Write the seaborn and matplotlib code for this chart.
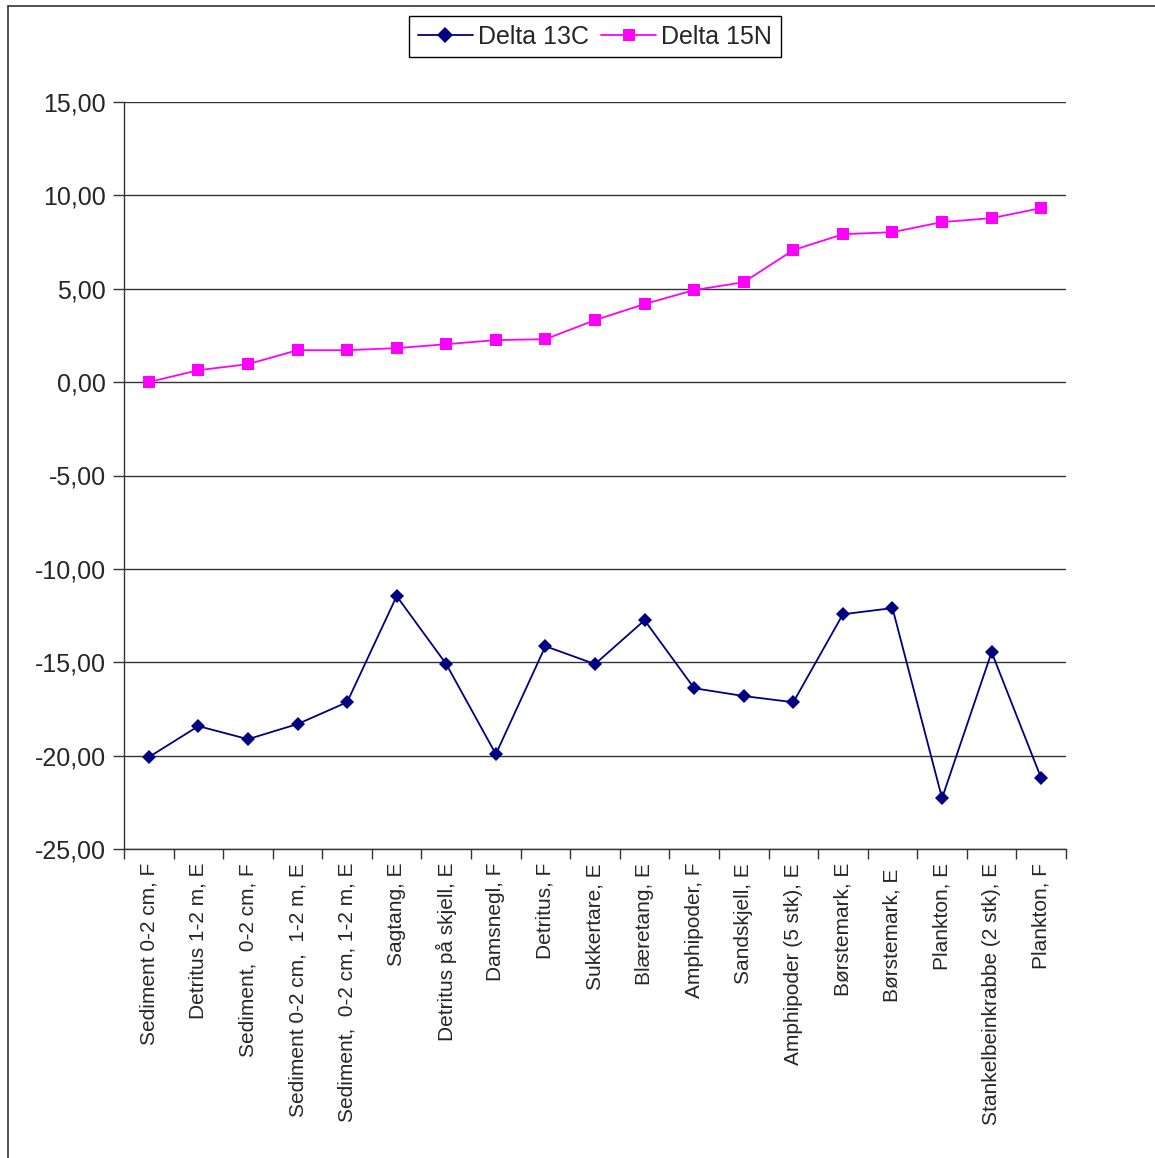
import matplotlib
matplotlib.use("Agg")
import matplotlib.pyplot as plt
import matplotlib.ticker as mticker
import numpy as np
import pandas as pd
import seaborn as sns

# Sample names (x categories)
samples = [
    "Sediment 0-2 cm, F",
    "Detritus 1-2 m, E",
    "Sediment,  0-2 cm, F",
    "Sediment 0-2 cm,  1-2 m, E",
    "Sediment,  0-2 cm, 1-2 m, E",
    "Sagtang, E",
    "Detritus på skjell, E",
    "Damsnegl, F",
    "Detritus, F",
    "Sukkertare, E",
    "Blæretang, E",
    "Amphipoder, F",
    "Sandskjell, E",
    "Amphipoder (5 stk), E",
    "Børstemark, E",
    "Børstemark, E ",
    "Plankton, E",
    "Stankelbeinkrabbe (2 stk), E",
    "Plankton, F",
]

delta_13c = [-20.08, -18.42, -19.12, -18.31, -17.14, -11.46, -15.10, -19.92, -14.14, -15.10,
             -12.75, -16.39, -16.81, -17.14, -12.43, -12.10, -22.28, -14.46, -21.21]
delta_15n = [0.00, 0.64, 0.96, 1.71, 1.71, 1.82, 2.03, 2.25, 2.30, 3.32,
             4.18, 4.93, 5.35, 7.07, 7.92, 8.03, 8.57, 8.78, 9.32]

df = pd.DataFrame({
    "pos": np.arange(len(samples)).tolist() * 2,
    "value": delta_13c + delta_15n,
    "series": ["Delta 13C"] * len(samples) + ["Delta 15N"] * len(samples),
})

sns.set_style("white")
plt.rcParams["font.family"] = ["Liberation Sans", "DejaVu Sans"]

fig = plt.figure(figsize=(11.55, 11.58), dpi=100)
ax = fig.add_axes([124 / 1155, 1 - 849 / 1158, 942 / 1155, 747 / 1158])

# outer frame of the chart area (left and top edges visible)
fig.add_artist(plt.Line2D([8 / 1155, 8 / 1155], [0, 1 - 6 / 1158], color="#333333", lw=1.2,
                          transform=fig.transFigure))
fig.add_artist(plt.Line2D([8 / 1155, 1], [1 - 6 / 1158, 1 - 6 / 1158], color="#333333", lw=1.2,
                          transform=fig.transFigure))

sns.lineplot(data=df, x="pos", y="value", hue="series", style="series",
             palette={"Delta 13C": "#000080", "Delta 15N": "#FF00FF"},
             markers={"Delta 13C": "D", "Delta 15N": "s"},
             dashes=False, ax=ax, lw=1.3, legend=False)
for line, ms in zip(ax.lines, [7, 9]):
    line.set_markersize(ms)
    line.set_markeredgewidth(0)

ax.set_xlim(-0.5, len(samples) - 0.5)
ax.set_ylim(-25, 15)
ax.yaxis.set_major_locator(mticker.MultipleLocator(5))
ax.yaxis.set_major_formatter(mticker.FuncFormatter(lambda v, p: f"{v:.2f}".replace(".", ",")))
ax.yaxis.grid(True, color="#333333", lw=1)
ax.xaxis.grid(False)
ax.set_axisbelow(True)

ax.set_xticks(np.arange(len(samples)))
ax.set_xticklabels(samples, rotation=90, fontsize=15)
ax.tick_params(axis="x", which="major", length=0, pad=10, bottom=False)
ax.set_xticks(np.arange(len(samples) + 1) - 0.5, minor=True)
ax.tick_params(axis="x", which="minor", length=7, color="#333333", width=1, direction="out",
               bottom=True)
ax.tick_params(axis="y", length=8, color="#333333", width=1, direction="out", labelsize=18,
               pad=5, left=True)

for side in ["top", "right"]:
    ax.spines[side].set_visible(False)
for side in ["left", "bottom"]:
    ax.spines[side].set_color("#333333")
    ax.spines[side].set_linewidth(1)
ax.set_xlabel("")
ax.set_ylabel("")

handles = [
    plt.Line2D([], [], color="#000080", marker="D", ms=8, mew=0, lw=1.3),
    plt.Line2D([], [], color="#FF00FF", marker="s", ms=9, mew=0, lw=1.3),
]
leg = fig.legend(handles, ["Delta 13C", "Delta 15N"], loc="center",
                 bbox_to_anchor=(595 / 1155, 1 - 36.5 / 1158), ncol=2, fontsize=18,
                 frameon=True, fancybox=False, edgecolor="black", framealpha=1,
                 handlelength=2.2, handletextpad=0.2, columnspacing=0.5,
                 borderpad=0.35, borderaxespad=0)
leg.get_frame().set_linewidth(1)

fig.savefig("out.png", dpi=100)
